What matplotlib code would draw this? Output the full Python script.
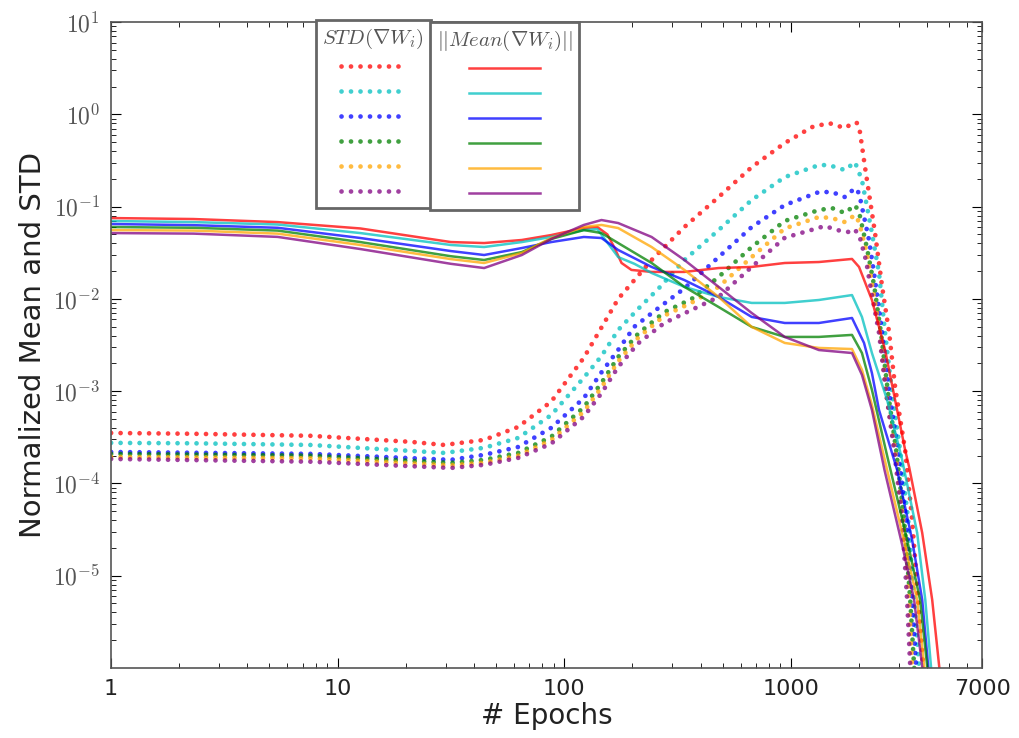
import matplotlib
matplotlib.use('Agg')
import matplotlib.pyplot as plt
from matplotlib.lines import Line2D

plt.rcParams['mathtext.fontset'] = 'cm'

colors = ['red', 'c', 'blue', 'green', 'orange', 'purple']

# ||Mean(grad W_i)|| per layer (solid lines): epochs and values
mean_epochs = [
    [1, 2.31, 5.43, 12.6, 31.6, 44.3, 65, 87.6, 122, 140, 155, 166, 179, 198, 243, 339, 480, 672, 940, 1330, 1862, 2000, 2280, 2606, 2885, 3194, 3326, 3800, 4206, 4518, 4650],
    [1, 2.31, 5.43, 12.6, 31.6, 44.3, 65, 87.6, 122, 140, 173, 204, 243, 339, 480, 672, 940, 1330, 1862, 2060, 2280, 2660, 3100, 3610, 3920, 4160, 4300],
    [1, 2.31, 5.43, 12.6, 31.6, 44.3, 65, 87.6, 122, 146, 173, 243, 339, 480, 672, 940, 1330, 1862, 2104, 2280, 2450, 2945, 3430, 3800, 4040, 4200],
    [1, 2.31, 5.43, 12.6, 31.6, 44.3, 65, 87.6, 122, 146, 173, 243, 339, 480, 672, 940, 1330, 1862, 2060, 2280, 2660, 3260, 3720, 4000, 4150],
    [1, 2.31, 5.43, 12.6, 31.6, 44.3, 65, 87.6, 122, 146, 173, 243, 339, 480, 672, 940, 1330, 1862, 2060, 2280, 2660, 3190, 3610, 3880, 4000],
    [1, 2.31, 5.43, 12.6, 31.6, 44.3, 65, 87.6, 122, 146, 173, 243, 339, 480, 672, 940, 1330, 1862, 2060, 2280, 2590, 3100, 3500, 3800, 3950],
]
mean_values = [
    [0.0752, 0.0734, 0.068, 0.058, 0.0413, 0.0403, 0.0435, 0.0492, 0.0586, 0.0601, 0.050, 0.0365, 0.0245, 0.0206, 0.0196, 0.0196, 0.0216, 0.0222, 0.0245, 0.0251, 0.0271, 0.0222, 0.00973, 0.00279, 0.000803, 0.000231, 0.000151, 2.91e-5, 5.47e-6, 1.03e-6, 5e-7],
    [0.0698, 0.068, 0.064, 0.0517, 0.0384, 0.0365, 0.0413, 0.0469, 0.0557, 0.057, 0.0284, 0.024, 0.0191, 0.0135, 0.0105, 0.00904, 0.00904, 0.00973, 0.0110, 0.00637, 0.00259, 0.000803, 0.00018, 2.91e-5, 5.5e-6, 1.0e-6, 5e-7],
    [0.0648, 0.063, 0.059, 0.0457, 0.033, 0.0299, 0.0356, 0.0413, 0.0469, 0.0457, 0.0339, 0.0222, 0.0160, 0.0105, 0.00637, 0.00548, 0.00548, 0.00621, 0.00333, 0.00157, 0.000625, 0.00014, 2.44e-5, 5.47e-6, 1.03e-6, 5e-7],
    [0.0601, 0.059, 0.055, 0.0413, 0.029, 0.0264, 0.0322, 0.0446, 0.0557, 0.0517, 0.0403, 0.0245, 0.0135, 0.00817, 0.00497, 0.00387, 0.00387, 0.00407, 0.00259, 0.00103, 0.0002, 2.44e-5, 5.47e-6, 1.03e-6, 5e-7],
    [0.0557, 0.055, 0.051, 0.0384, 0.027, 0.0245, 0.0314, 0.0457, 0.0601, 0.0633, 0.0586, 0.0365, 0.0206, 0.0105, 0.00497, 0.00333, 0.00294, 0.00286, 0.0017, 0.000708, 0.00014, 2.16e-5, 5.47e-6, 1.03e-6, 5e-7],
    [0.0517, 0.051, 0.047, 0.0347, 0.024, 0.0216, 0.0299, 0.0446, 0.0633, 0.0716, 0.0664, 0.0469, 0.0264, 0.0135, 0.00703, 0.00387, 0.00279, 0.00259, 0.0015, 0.000625, 0.00014, 2.16e-5, 5.47e-6, 1.03e-6, 5e-7],
]

# STD(grad W_i) per layer (dotted lines)
std_epochs = [
    [1, 2.31, 7.6, 21, 29.5, 44.3, 62.6, 87.6, 122, 173, 243, 339, 480, 672, 940, 1239, 1473, 1733, 1900, 1960, 2019, 2125, 2353, 2530, 2716, 2885, 3194, 3430, 3645, 3840, 3950],
    [1, 2.31, 7.6, 29.5, 44.3, 62.6, 87.6, 122, 146, 173, 212, 265, 339, 480, 672, 940, 1330, 1473, 1733, 1919, 2060, 2280, 2450, 2606, 2798, 3034, 3296, 3500, 3681, 3780],
    [1, 7.6, 31.6, 44.3, 62.6, 87.6, 122, 146, 173, 204, 261, 339, 480, 672, 940, 1330, 1518, 1733, 1919, 2000, 2215, 2353, 2530, 2716, 2974, 3228, 3430, 3573, 3680],
    [1, 7.6, 31.6, 44.3, 62.6, 87.6, 122, 146, 173, 212, 277, 365, 480, 672, 940, 1330, 1518, 1733, 1919, 2000, 2170, 2330, 2500, 2685, 2916, 3162, 3365, 3500, 3600],
    [1, 7.6, 31.6, 44.3, 62.6, 87.6, 122, 146, 173, 212, 277, 365, 480, 672, 940, 1330, 1518, 1733, 1919, 2000, 2170, 2306, 2475, 2633, 2885, 3130, 3326, 3430, 3530],
    [1, 7.6, 31.6, 44.3, 62.6, 87.6, 122, 146, 173, 212, 277, 365, 480, 672, 940, 1414, 1600, 1800, 1901, 2000, 2148, 2280, 2450, 2633, 2857, 3100, 3260, 3365, 3460],
]
std_values = [
    [3.52e-4, 3.45e-4, 3.28e-4, 2.82e-4, 2.61e-4, 2.96e-4, 4.09e-4, 7.7e-4, 0.0023, 0.010, 0.0264, 0.0601, 0.127, 0.268, 0.489, 0.728, 0.805, 0.711, 0.82, 0.805, 0.643, 0.268, 0.0517, 0.0135, 0.0043, 0.00111, 0.000231, 4.03e-5, 5.47e-6, 1.03e-6, 5e-7],
    [2.75e-4, 2.72e-4, 2.61e-4, 2.14e-4, 2.43e-4, 3.11e-4, 5.5e-4, 0.0014, 0.0024, 0.0046, 0.0078, 0.0135, 0.0264, 0.0557, 0.118, 0.209, 0.282, 0.282, 0.249, 0.304, 0.194, 0.0517, 0.019, 0.00428, 0.00096, 0.000231, 4.03e-5, 5.47e-6, 1.03e-6, 5e-7],
    [2.19e-4, 2.09e-4, 1.8e-4, 2.04e-4, 2.48e-4, 4.0e-4, 8.4e-4, 0.0016, 0.0028, 0.0050, 0.0080, 0.013, 0.0284, 0.0601, 0.104, 0.144, 0.144, 0.127, 0.159, 0.140, 0.043, 0.016, 0.00428, 0.00096, 0.000231, 4.03e-5, 5.47e-6, 1.03e-6, 5e-7],
    [2.09e-4, 2.0e-4, 1.67e-4, 1.8e-4, 2.14e-4, 3.2e-4, 6.7e-4, 0.00123, 0.00235, 0.0042, 0.0072, 0.0100, 0.0173, 0.0365, 0.070, 0.0918, 0.0966, 0.0853, 0.104, 0.0874, 0.035, 0.0141, 0.00428, 0.00096, 0.000231, 4.03e-5, 5.47e-6, 1.03e-6, 5e-7],
    [1.94e-4, 1.87e-4, 1.57e-4, 1.68e-4, 2.0e-4, 2.95e-4, 6.0e-4, 0.0011, 0.0021, 0.0038, 0.0066, 0.0091, 0.0135, 0.0284, 0.058, 0.0772, 0.0752, 0.068, 0.0811, 0.068, 0.031, 0.0125, 0.00428, 0.00096, 0.000231, 4.03e-5, 5.47e-6, 1.03e-6, 5e-7],
    [1.84e-4, 1.72e-4, 1.47e-4, 1.59e-4, 1.89e-4, 2.7e-4, 5.3e-4, 0.00095, 0.00183, 0.0033, 0.0055, 0.0076, 0.0105, 0.0222, 0.046, 0.0617, 0.0557, 0.0531, 0.057, 0.050, 0.026, 0.011, 0.00428, 0.00096, 0.000231, 4.03e-5, 5.47e-6, 1.03e-6, 5e-7],
]

dot_style = dict(lw=3.4, ls=(0, (0.01, 2.0)), dash_capstyle='round', alpha=0.75)
solid_style = dict(lw=1.8, alpha=0.75)

fig = plt.figure(figsize=(10.19, 7.38), dpi=100)
ax = fig.add_axes([0.109, 0.095, 0.855, 0.875])

for c, ex, vals in zip(colors, std_epochs, std_values):
    ax.plot(ex, vals, color=c, **dot_style)
for c, ex, vals in zip(colors, mean_epochs, mean_values):
    ax.plot(ex, vals, color=c, **solid_style)

ax.set_xscale('log')
ax.set_yscale('log')
ax.set_xlim(1, 7000)
ax.set_ylim(1e-6, 10)

ax.set_xticks([1, 10, 100, 1000, 7000])
ax.set_xticklabels(['1', '10', '100', '1000', '7000'], fontsize=16, color='#222222')
yt = [1e-5, 1e-4, 1e-3, 1e-2, 1e-1, 1, 10]
ax.set_yticks(yt)
ax.set_yticklabels([r'$10^{%d}$' % e for e in range(-5, 2)], fontsize=17, color='#555555')
ax.tick_params(which='both', direction='in', top=True, right=True)
ax.tick_params(which='major', length=7, pad=8)
ax.tick_params(which='minor', length=3.5)
for s in ax.spines.values():
    s.set_color('#555555')
    s.set_linewidth(1.2)

ax.set_xlabel('# Epochs', fontsize=20, color='#222222', labelpad=2)
ax.set_ylabel('Normalized Mean and STD', fontsize=21, color='#222222', labelpad=4)

std_handles = [Line2D([], [], color=c, **dot_style) for c in colors]
mean_handles = [Line2D([], [], color=c, **solid_style) for c in colors]

common = dict(loc='upper left', fontsize=12, handletextpad=0, fancybox=False,
              framealpha=1, borderaxespad=0, labelspacing=0.42)
leg1 = ax.legend(std_handles, [''] * 6, title=r'$STD(\nabla W_i)$',
                 bbox_to_anchor=(0.235, 1.003), handlelength=3.9, **common)
leg1.get_title().set_fontsize(15)
leg1.get_title().set_color('#555555')
leg1.get_frame().set_edgecolor('#666666')
leg1.get_frame().set_linewidth(2)
ax.add_artist(leg1)

leg2 = ax.legend(mean_handles, [''] * 6, title=r'$||Mean(\nabla W_i)||$',
                 bbox_to_anchor=(0.366, 1.0), handlelength=4.3, **common)
leg2.get_title().set_fontsize(15)
leg2.get_title().set_color('#555555')
leg2.get_frame().set_edgecolor('#666666')
leg2.get_frame().set_linewidth(2)

fig.savefig('out.png', dpi=100)
